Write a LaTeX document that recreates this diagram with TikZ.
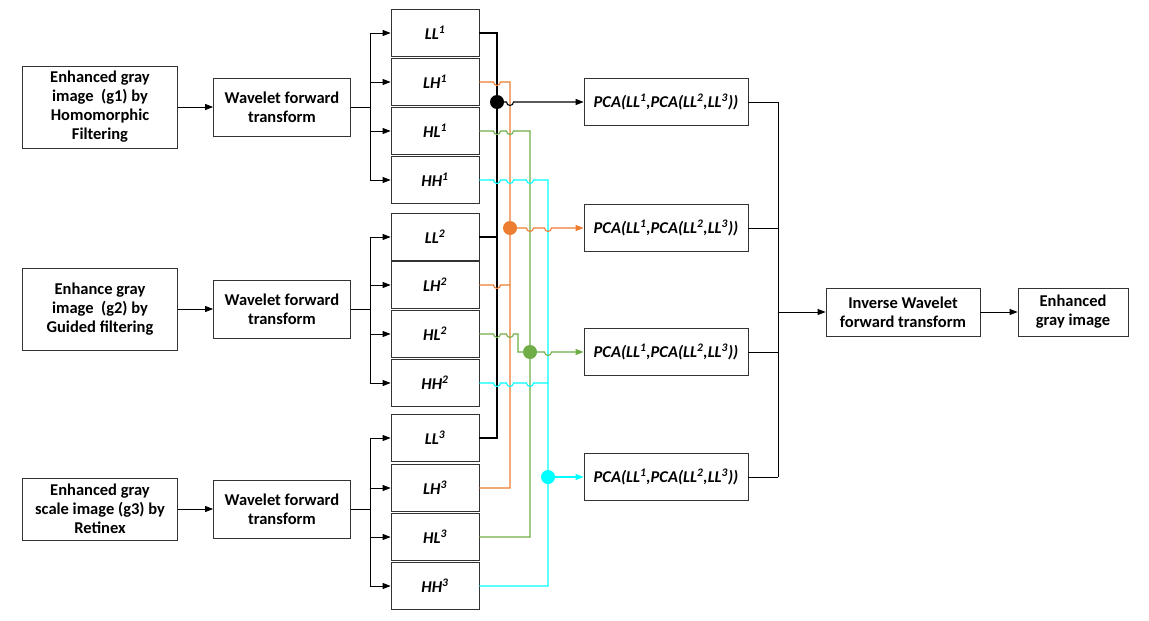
\documentclass[tikz,border=0pt]{standalone}
\usepackage{fontspec}
\setmainfont{Carlito}
\usetikzlibrary{arrows.meta}
\definecolor{bandO}{HTML}{ED7D31}
\definecolor{bandG}{HTML}{70AD47}
\definecolor{bandC}{HTML}{00FFFF}
\def\hr{3.5}
\tikzset{
  box/.style={draw=black!80,fill=white,align=center,inner sep=0pt,font=\fontsize{16.5}{19}\selectfont\bfseries},
  sub/.style={box,minimum width=88pt,minimum height=47pt,font=\fontsize{16.5}{19}\selectfont\bfseries\itshape},
  pca/.style={box,minimum width=164pt,minimum height=47pt,font=\fontsize{16.5}{19}\selectfont\bfseries\itshape},
  arr/.style={-{Triangle[length=8pt,width=6pt]}},
  bus/.style={line width=1.1pt},
  dot/.style={circle,inner sep=0pt,minimum size=14pt},
}
\newcommand{\hops}[2]{foreach \c in {#1} {-- ({\c-\hr},#2) arc[start angle=180,end angle=0,radius=\hr]}}
\begin{document}
\begin{tikzpicture}[x=1pt,y=-1pt,line width=0.8pt]
				\useasboundingbox (0,0) rectangle (1149,621);
				% inputs
				\node[box,minimum width=155pt,minimum height=82pt] (G1) at (100,107) {Enhanced gray\\image\ \ (g1) by\\Homomorphic\\Filtering};
				\node[box,minimum width=155pt,minimum height=82pt] (G2) at (100,309) {Enhance gray\\image\ \ (g2) by\\Guided filtering};
				\node[box,minimum width=155pt,minimum height=62pt] (G3) at (100,509) {Enhanced gray\\scale image (g3) by\\Retinex};
				\foreach \i/\y in {1/107,2/309,3/509} {
					\node[box,minimum width=137pt,minimum height=58pt] (WF\i) at (282,\y) {Wavelet forward\\transform};
					\draw[arr] (G\i) -- (WF\i);
					\draw (WF\i.east) -- (370,\y);
				}
				% sub-bands
				\foreach \n/\t/\y in {LL1/LL/33,LH1/LH/82,HL1/HL/131,HH1/HH/180,
				                      LL2/LL/237,LH2/LH/285,HL2/HL/334,HH2/HH/383,
				                      LL3/LL/438,LH3/LH/488,HL3/HL/537,HH3/HH/586} {
					\node[sub] (\n) at (435,\y) {\t\textsuperscript{\pgfmathparse{int(\y<200?1:(\y<410?2:3))}\pgfmathresult}};
					\draw[arr] (370,\y) -- (\n.west);
				}
				\draw (370,33) -- (370,180);
				\draw (370,237) -- (370,383);
				\draw (370,438) -- (370,586);
				% fusion
				\foreach \i/\y in {1/102,2/228,3/352,4/477}
					\node[pca] (P\i) at (666,\y) {PCA(LL\textsuperscript{1},PCA(LL\textsuperscript{2},LL\textsuperscript{3}))};
				\node[box,minimum width=154pt,minimum height=48pt] (INV) at (903,312) {Inverse Wavelet\\forward transform};
				\node[box,minimum width=110pt,minimum height=48pt] (OUT) at (1073,312) {Enhanced\\gray image};
				% buses
				\draw[bus] (LL1.east) -- (497,33) -- (497,438) -- (LL3.east);
				\draw[bus] (LL2.east) -- (497,237);
				\draw[bus,bandO] (LH1.east) \hops{497}{82} -- (510,82) -- (510,488) -- (LH3.east);
				\draw[bus,bandO] (LH2.east) \hops{497}{285} -- (510,285);
				\draw[bus,bandG] (HL1.east) \hops{497,510}{131} -- (530,131) -- (530,537) -- (HL3.east);
				\draw[bus,bandG] (HL2.east) \hops{497,510}{334} -- (518,334) -- (518,352) -- (530,352);
				\draw[bus,bandC] (HH1.east) \hops{497,510,530}{180} -- (548,180) -- (548,586) -- (HH3.east);
				\draw[bus,bandC] (HH2.east) \hops{497,510,530}{383} -- (548,383);
				\node[dot,fill=black] (D1) at (497,102) {};
				\node[dot,fill=bandO] (D2) at (510,228) {};
				\node[dot,fill=bandG] (D3) at (530,352) {};
				\node[dot,fill=bandC] (D4) at (548,477) {};
				\draw[arr,bus] (D1.center) \hops{510}{102} -- (P1.west);
				\draw[arr,bus,bandO] (D2.center) \hops{530,548}{228} -- (P2.west);
				\draw[arr,bus,bandG] (D3.center) \hops{548}{352} -- (P3.west);
				\draw[arr,bus,bandC] (D4.center) -- (P4.west);
				% output
				\foreach \i in {1,...,4}
					\draw (P\i.east) -- (P\i.east -| 778,0);
				\draw (778,102) -- (778,477);
				\draw[arr] (778,312) -- (INV.west);
				\draw[arr] (INV) -- (OUT);
			\end{tikzpicture}
\end{document}
